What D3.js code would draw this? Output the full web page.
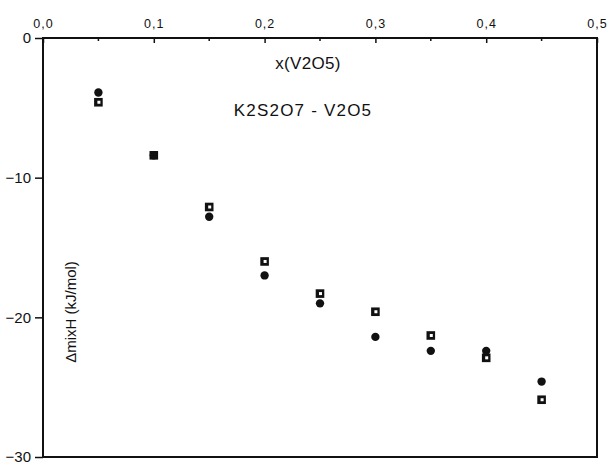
<!DOCTYPE html>
<html>
<head>
<meta charset="utf-8">
<script src="https://cdn.jsdelivr.net/npm/d3@7"></script>
<style>
	body { margin: 0; background: #fff; }
	svg { font-family: "Liberation Sans", Arial, sans-serif; }
	.domain, .tick line { stroke: #111; }
</style>
</head>
<body>
<script>
// composition x(V2O5) and mixing enthalpy (kJ/mol), two measurement series
var xValues = [0.05, 0.10, 0.15, 0.20, 0.25, 0.30, 0.35, 0.40, 0.45];
var filledDiamond = [-3.9, -8.4, -12.8, -17.0, -19.0, -21.4, -22.4, -22.4, -24.6];
var openSquare = [-4.6, -8.4, -12.1, -16.0, -18.3, -19.6, -21.3, -22.9, -25.9];
var xTicks = [0, 0.1, 0.2, 0.3, 0.4, 0.5];
var xMinorTicks = [0.05, 0.15, 0.25, 0.35, 0.45];
var yTicks = [0, -10, -20, -30];

var width = 610, height = 466;
// note: "top" is a reserved window property, so use plot* names
var plotLeft = 43, plotRight = 597, plotTop = 38, plotBottom = 457;

var svg = d3.select('body').append('svg')
	.attr('width', width)
	.attr('height', height);

var x = d3.scaleLinear().domain([0, 0.5]).range([plotLeft, plotRight]);
var y = d3.scaleLinear().domain([0, -30]).range([plotTop, plotBottom]);

// frame
svg.append('rect')
	.attr('x', plotLeft).attr('y', plotTop)
	.attr('width', plotRight - plotLeft).attr('height', plotBottom - plotTop)
	.attr('fill', 'none').attr('stroke', '#111').attr('stroke-width', 2);

// top x axis, ticks pointing inward
var xAxis = svg.append('g')
	.attr('transform', 'translate(0,' + plotTop + ')')
	.call(d3.axisTop(x).tickValues(xTicks).tickSizeInner(-5).tickSizeOuter(0)
		.tickFormat(function (d) { return d3.format('.1f')(d).replace('.', ','); }));
xAxis.select('.domain').remove();
xAxis.selectAll('.tick line').attr('stroke-width', 1.5);
xAxis.selectAll('.tick text')
	.attr('y', -10)
	.attr('font-size', 12.5)
	.attr('letter-spacing', 1)
	.attr('fill', '#111');

// minor ticks at half steps
svg.selectAll('.minor').data(xMinorTicks).enter().append('line')
	.attr('class', 'minor')
	.attr('x1', function (d) { return x(d); }).attr('x2', function (d) { return x(d); })
	.attr('y1', plotTop).attr('y2', plotTop + 3)
	.attr('stroke', '#111').attr('stroke-width', 1.5);

// left y axis, ticks pointing outward
var yAxis = svg.append('g')
	.attr('transform', 'translate(' + plotLeft + ',0)')
	.call(d3.axisLeft(y).tickValues(yTicks).tickSizeInner(8).tickSizeOuter(0).tickFormat(d3.format('d')));
yAxis.select('.domain').remove();
yAxis.selectAll('.tick line').attr('stroke-width', 1.5);
yAxis.selectAll('.tick text')
	.attr('x', -12)
	.attr('font-size', 15)
	.attr('fill', '#111');

// labels
svg.append('text')
	.attr('x', 308).attr('y', 69)
	.attr('text-anchor', 'middle')
	.attr('font-size', 17)
	.attr('letter-spacing', 0.3)
	.attr('fill', '#111')
	.text('x(V2O5)');

svg.append('text')
	.attr('x', 303).attr('y', 116)
	.attr('text-anchor', 'middle')
	.attr('font-size', 17)
	.attr('letter-spacing', 1.2)
	.attr('fill', '#111')
	.text('K2S2O7 - V2O5');

svg.append('text')
	.attr('transform', 'translate(76,312) rotate(-90)')
	.attr('text-anchor', 'middle')
	.attr('font-size', 15)
	.attr('fill', '#111')
	.text('\u0394mixH (kJ/mol)');

// open squares drawn first
var sq = svg.selectAll('.sq').data(xValues.map(function (d, i) { return [d, openSquare[i]]; }))
	.enter().append('g').attr('class', 'sq')
	.attr('transform', function (d) { return 'translate(' + x(d[0]) + ',' + y(d[1]) + ')'; });
sq.append('rect').attr('x', -4.3).attr('y', -4.3).attr('width', 8.6).attr('height', 8.6).attr('fill', '#111');
sq.append('rect').attr('x', -1).attr('y', -1.5).attr('width', 3).attr('height', 3).attr('fill', '#fff');

// filled diamonds
svg.selectAll('.dia').data(xValues.map(function (d, i) { return [d, filledDiamond[i]]; }))
	.enter().append('path').attr('class', 'dia')
	.attr('d', d3.symbol().type(d3.symbolCircle).size(55))
	.attr('transform', function (d) { return 'translate(' + x(d[0]) + ',' + y(d[1]) + ')'; })
	.attr('fill', '#111');
</script>
</body>
</html>
